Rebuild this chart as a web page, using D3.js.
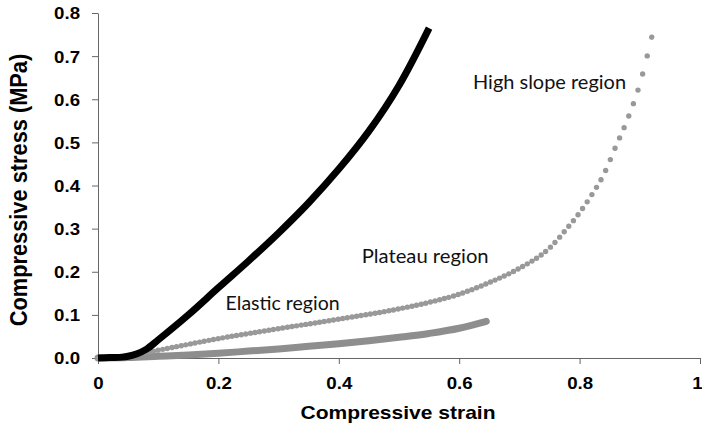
<!DOCTYPE html>
<html>
<head>
<meta charset="utf-8">
<script src="https://cdn.jsdelivr.net/npm/d3@7/dist/d3.min.js"></script>
<style>
  html, body { margin: 0; padding: 0; background: #fff; }
  svg { display: block; }
</style>
</head>
<body>
<svg id="chart" width="702" height="428"></svg>
<script>
// Compressive stress–strain curves (strain, stress in MPa)
const strainSolid = [0, 0.02, 0.04, 0.05, 0.065, 0.08, 0.1, 0.15, 0.2, 0.25, 0.3, 0.35, 0.4, 0.45, 0.5, 0.55];
const stressSolid = [0, 0.001, 0.002, 0.004, 0.01, 0.02, 0.042, 0.1, 0.163, 0.225, 0.29, 0.36, 0.438, 0.526, 0.632, 0.765];

const strainDotted = [0, 0.03, 0.05, 0.07, 0.1, 0.2, 0.3, 0.4, 0.5, 0.55, 0.6, 0.65, 0.7, 0.75, 0.78, 0.8, 0.82, 0.84, 0.86, 0.88, 0.9, 0.92];
const stressDotted = [0, 0.001, 0.003, 0.01, 0.018, 0.045, 0.068, 0.09, 0.114, 0.129, 0.148, 0.175, 0.208, 0.255, 0.302, 0.337, 0.378, 0.425, 0.49, 0.555, 0.635, 0.745];

const strainGrey = [0, 0.05, 0.1, 0.15, 0.2, 0.25, 0.3, 0.35, 0.4, 0.45, 0.5, 0.55, 0.6, 0.645];
const stressGrey = [0, 0.001, 0.004, 0.007, 0.011, 0.016, 0.021, 0.027, 0.033, 0.04, 0.048, 0.057, 0.069, 0.085];

const xTicks = [0, 0.2, 0.4, 0.6, 0.8, 1];
const xTickLabels = ["0", "0.2", "0.4", "0.6", "0.8", "1"];
const yTicks = [0, 0.1, 0.2, 0.3, 0.4, 0.5, 0.6, 0.7, 0.8];
const yTickLabels = ["0.0", "0.1", "0.2", "0.3", "0.4", "0.5", "0.6", "0.7", "0.8"];

const regionLabels = ["Elastic region", "Plateau region", "High slope region"];
const xTitle = "Compressive strain";
const yTitle = "Compressive stress (MPa)";

const svg = d3.select("#chart");
const plotLeft = 98, plotRight = 700, plotTop = 13, plotBottom = 358;
const sx = 1.13; // horizontal glyph widening used for all horizontal text

const x = d3.scaleLinear().domain([0, 1]).range([plotLeft, plotRight]);
const y = d3.scaleLinear().domain([0, 0.8]).range([plotBottom, plotTop]);

function widen(sel, factor) {
  sel.each(function () {
    const w = this.getComputedTextLength();
    d3.select(this).attr("textLength", w * factor).attr("lengthAdjust", "spacingAndGlyphs");
  });
}

// Axes
const axisColor = "#666";
const gx = svg.append("g").attr("transform", `translate(0,${plotBottom})`)
  .call(d3.axisBottom(x).tickValues(xTicks).tickFormat((d, i) => xTickLabels[i]).tickSize(6).tickSizeOuter(0));
const gy = svg.append("g").attr("transform", `translate(${plotLeft},0)`)
  .call(d3.axisLeft(y).tickValues(yTicks).tickFormat((d, i) => yTickLabels[i]).tickSize(6).tickSizeOuter(0).tickPadding(12));

[gx, gy].forEach(g => {
  g.select(".domain").attr("stroke", axisColor).attr("stroke-width", 1);
  g.selectAll(".tick line").attr("stroke", axisColor).attr("stroke-width", 1);
  g.selectAll(".tick text")
    .attr("fill", "#000")
    .style("font-family", "'Liberation Sans', Arial, sans-serif")
    .style("font-weight", "bold")
    .style("font-size", "16.5px");
});
gx.selectAll(".tick text").attr("y", 31).attr("dy", null);
// keep the last label inside the canvas edge
gx.selectAll(".tick text").filter(d => d === 1).attr("x", -3);
gy.selectAll(".tick text").attr("dy", "0.36em");
widen(gx.selectAll(".tick text"), sx);
widen(gy.selectAll(".tick text"), sx);

// Series
const lineMono = d3.line().x(d => x(d[0])).y(d => y(d[1])).curve(d3.curveMonotoneX);
const lineSmooth = d3.line().x(d => x(d[0])).y(d => y(d[1])).curve(d3.curveCatmullRom.alpha(0.5));
const greyData = d3.zip(strainGrey, stressGrey);
const dottedData = d3.zip(strainDotted, stressDotted);
const solidData = d3.zip(strainSolid, stressSolid);

svg.append("path").datum(greyData)
  .attr("d", lineMono)
  .attr("fill", "none")
  .attr("stroke", "#8e8e8e")
  .attr("stroke-width", 7)
  .attr("stroke-linejoin", "round")
  .attr("stroke-linecap", "round");

const dotted = svg.append("path").datum(dottedData)
  .attr("d", lineMono)
  .attr("fill", "none")
  .attr("stroke", "#999")
  .attr("stroke-width", 5.4)
  .attr("stroke-linecap", "round");

// place round dash caps at even horizontal steps along the curve, ending on the last point
(function () {
  const node = dotted.node();
  const L = node.getTotalLength();
  const x0 = node.getPointAtLength(0).x;
  const x1 = node.getPointAtLength(L).x;
  const n = Math.round((x1 - x0) / 4.6);
  const step = (x1 - x0) / n;
  const stops = [0];
  let nextX = x0 + step;
  for (let l = 0; l <= L; l += 0.2) {
    const p = node.getPointAtLength(l);
    if (p.x >= nextX - 1e-6 && stops.length < n) { stops.push(l); nextX += step; }
  }
  stops.push(L - 0.6);
  const dash = [];
  for (let i = 1; i < stops.length; i++) dash.push(0, stops[i] - stops[i - 1]);
  dash.push(0.01, 40);
  dotted.attr("stroke-dasharray", dash.map(v => v.toFixed(2)).join(" "));
})();

svg.append("path").datum(solidData)
  .attr("d", lineSmooth)
  .attr("fill", "none")
  .attr("stroke", "#000")
  .attr("stroke-width", 7)
  .attr("stroke-linejoin", "round");

// Region annotations
const annPos = [
  { x: 0.212, y: 0.112, w: 114 },
  { x: 0.438, y: 0.221, w: 127 },
  { x: 0.623, y: 0.624, w: 153 }
];
svg.append("g").selectAll("text").data(regionLabels).join("text")
  .attr("x", (d, i) => x(annPos[i].x))
  .attr("y", (d, i) => y(annPos[i].y))
  .attr("fill", "#111")
  .style("font-family", "Lato, 'Open Sans', sans-serif")
  .style("font-size", "19.5px")
  .attr("textLength", (d, i) => annPos[i].w)
  .attr("lengthAdjust", "spacingAndGlyphs")
  .text(d => d);

// Axis titles
const xt = svg.append("text")
  .attr("x", 398).attr("y", 419)
  .attr("text-anchor", "middle")
  .attr("fill", "#000")
  .style("font-family", "'Liberation Sans', Arial, sans-serif")
  .style("font-weight", "bold")
  .style("font-size", "18.6px")
  .text(xTitle);
widen(xt, sx);

svg.append("text")
  .attr("transform", `translate(27,190) scale(${sx},1) rotate(-90)`)
  .attr("text-anchor", "middle")
  .attr("fill", "#000")
  .style("font-family", "'Liberation Sans', Arial, sans-serif")
  .style("font-weight", "bold")
  .style("font-size", "21.8px")
  .text(yTitle);
</script>
</body>
</html>
